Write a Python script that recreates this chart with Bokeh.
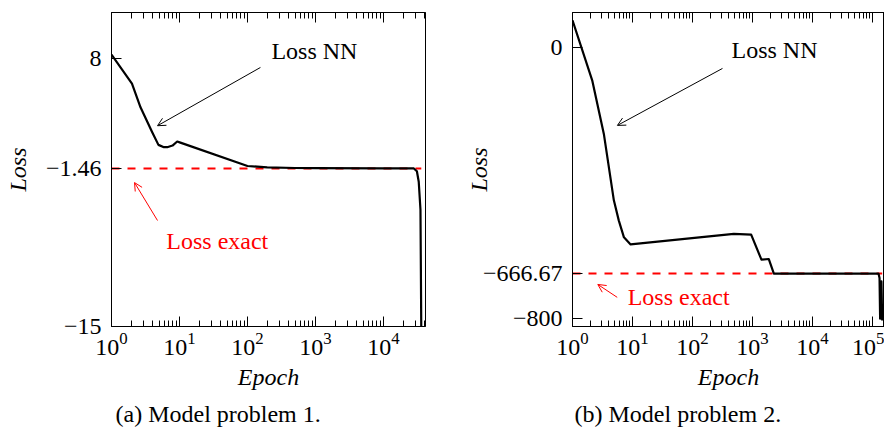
from bokeh.plotting import figure
from bokeh.models import (FixedTicker, LogAxis, Arrow, OpenHead, Label, Title,
                          CustomJSTickFormatter, Range1d, LogTickFormatter)
from bokeh.layouts import row
from bokeh.embed import file_html
from bokeh.resources import INLINE

# ---------------- data ----------------
# (a) Model problem 1
epoch1 = [1, 2, 2.67, 3.97, 4.9, 5.9, 6.6, 7.9, 9.25, 10.3, 100, 195, 500,
          1000, 10000, 28000, 31000, 33000, 35000, 36000]
loss1 = [8.3, 5.8, 3.78, 1.64, 0.56, 0.36, 0.36, 0.5, 0.85, 0.75, -1.25, -1.36,
         -1.42, -1.44, -1.45, -1.46, -1.7, -2.6, -5.0, -15.5]
exact1 = -1.46
yticks1 = [-15, -1.46, 8]
xticks1 = [1, 10, 100, 1000, 10000]

# (b) Model problem 2
epoch2 = [1, 2.13, 3.33, 4.89, 5.9, 7.2, 9.3, 488, 950, 1410, 1870, 2270,
          126000, 131000, 134000, 137000, 141000, 145000]
loss2 = [80, -97, -255, -451, -510, -560, -581, -550, -552, -626, -624, -667,
         -667, -680, -800, -720, -690, -805]
exact2 = -666.67
yticks2 = [-800, -666.67, 0]
xticks2 = [1, 10, 100, 1000, 10000, 100000]

captions = ["(a) Model problem 1.", "(b) Model problem 2."]

FONT = "'Liberation Serif', 'DejaVu Serif', serif"
FS = "24px"


def minus_fmt():
    return CustomJSTickFormatter(
        code="return tick < 0 ? '\u2212' + String(Math.abs(tick)) : String(tick);")


def minor_of(majors, xmax):
    out = []
    for m in majors:
        for k in range(2, 10):
            if m * k <= xmax:
                out.append(m * k)
    return out


def make_fig(epoch, loss, exact, yticks, xticks, xr, yr, width, bl, br,
             ylab_standoff, caption, cap_offset):
    p = figure(width=width, height=432, x_axis_type="log",
               x_range=Range1d(*xr), y_range=Range1d(*yr),
               output_backend="svg", toolbar_location=None,
               min_border_left=bl, min_border_right=br,
               min_border_top=12, min_border_bottom=106)
    p.xgrid.visible = False
    p.ygrid.visible = False
    p.outline_line_color = "black"
    p.outline_line_width = 1
    p.background_fill_color = "white"
    p.border_fill_color = "white"

    minors = minor_of(xticks, xr[1])
    xa = p.xaxis[0]
    xa.ticker = FixedTicker(ticks=xticks, minor_ticks=minors)
    xa.formatter = LogTickFormatter(min_exponent=0)
    xa.major_tick_in = 10
    xa.major_tick_out = 0
    xa.minor_tick_in = 6
    xa.minor_tick_out = 0
    xa.major_label_standoff = 6
    xa.major_label_text_font = FONT
    xa.major_label_text_font_size = FS
    xa.major_label_text_color = "black"
    xa.axis_label = "Epoch"
    xa.axis_label_text_font = FONT
    xa.axis_label_text_font_size = FS
    xa.axis_label_text_font_style = "italic"
    xa.axis_label_text_color = "black"
    xa.axis_label_standoff = 6
    xa.axis_line_color = "black"
    xa.major_tick_line_color = "black"
    xa.minor_tick_line_color = "black"

    top = LogAxis(ticker=FixedTicker(ticks=xticks, minor_ticks=minors),
                  formatter=CustomJSTickFormatter(code="return '';"),
                  major_label_text_font_size="1px", major_label_standoff=0,
                  major_tick_in=10, major_tick_out=0,
                  minor_tick_in=6, minor_tick_out=0,
                  axis_line_color="black", major_tick_line_color="black",
                  minor_tick_line_color="black")
    p.add_layout(top, "above")

    ya = p.yaxis[0]
    ya.ticker = FixedTicker(ticks=yticks, minor_ticks=[])
    ya.formatter = minus_fmt()
    ya.major_tick_in = 10
    ya.major_tick_out = 0
    ya.minor_tick_in = 0
    ya.minor_tick_out = 0
    ya.major_label_standoff = 10
    ya.major_label_text_font = FONT
    ya.major_label_text_font_size = FS
    ya.major_label_text_color = "black"
    ya.axis_label = "Loss"
    ya.axis_label_text_font = FONT
    ya.axis_label_text_font_size = FS
    ya.axis_label_text_font_style = "italic"
    ya.axis_label_text_color = "black"
    ya.axis_label_standoff = ylab_standoff
    ya.axis_line_color = "black"
    ya.major_tick_line_color = "black"

    # exact loss (red dashed)
    p.line([xr[0], epoch[-1]], [exact, exact], line_color="#ff0000",
           line_width=2, line_dash="8 8")
    # NN loss
    p.line(epoch, loss, line_color="black", line_width=2.2,
           line_join="round")

    p.add_layout(Title(text=caption, align="left", offset=cap_offset,
                       text_font=FONT, text_font_size=FS,
                       text_font_style="normal", text_color="black",
                       standoff=12), "below")
    return p


p1 = make_fig(epoch1, loss1, exact1, yticks1, xticks1, (1, 41500),
              (-15, 11.9), 440, 111, 15, 12, captions[0], 4)
p2 = make_fig(epoch2, loss2, exact2, yticks2, xticks2, (1, 158489),
              (-823, 103), 444, 132, 0, -12, captions[1], 2)

# annotations panel (a)
p1.add_layout(Label(x=225, y=8.64, text="Loss NN", text_font=FONT,
                    text_font_size=FS, text_baseline="middle",
                    text_align="left", text_color="black"))
p1.add_layout(Arrow(x_start=155, y_start=7.19, x_end=4.75, y_end=2.2,
                    line_color="black", line_width=1,
                    end=OpenHead(size=8, line_color="black", line_width=1)))
p1.add_layout(Label(x=6.4, y=-7.64, text="Loss exact", text_font=FONT,
                    text_font_size=FS, text_baseline="middle",
                    text_align="left", text_color="#ff0000"))
p1.add_layout(Arrow(x_start=4.75, y_start=-5.92, x_end=2.18, y_end=-2.67,
                    line_color="#ff0000", line_width=1,
                    end=OpenHead(size=8, line_color="#ff0000", line_width=1)))

# annotations panel (b)
p2.add_layout(Label(x=447, y=-9, text="Loss NN", text_font=FONT,
                    text_font_size=FS, text_baseline="middle",
                    text_align="left", text_color="black"))
p2.add_layout(Arrow(x_start=316, y_start=-62, x_end=5.6, y_end=-230,
                    line_color="black", line_width=1,
                    end=OpenHead(size=8, line_color="black", line_width=1)))
p2.add_layout(Label(x=8.3, y=-737, text="Loss exact", text_font=FONT,
                    text_font_size=FS, text_baseline="middle",
                    text_align="left", text_color="#ff0000"))
p2.add_layout(Arrow(x_start=5.56, y_start=-737, x_end=2.64, y_end=-699,
                    line_color="#ff0000", line_width=1,
                    end=OpenHead(size=8, line_color="#ff0000", line_width=1)))

layout = row(p1, p2)
open("out.html", "w").write(file_html(layout, INLINE))
